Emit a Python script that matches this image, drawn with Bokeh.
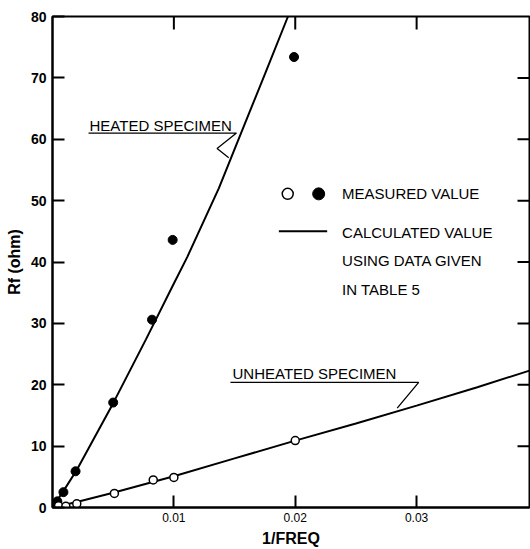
import math
from bokeh.plotting import figure
from bokeh.models import Range1d, FixedTicker, Label
from bokeh.embed import file_html
from bokeh.resources import INLINE

# ---- data ----
heated_meas_x = [0.0004, 0.0009, 0.0019, 0.0050, 0.0082, 0.0099, 0.0199]
heated_meas_y = [1.0, 2.5, 5.9, 17.1, 30.6, 43.6, 73.4]

unheated_meas_x = [0.0005, 0.0011, 0.0020, 0.0051, 0.0083, 0.0100, 0.0200]
unheated_meas_y = [0.3, 0.2, 0.6, 2.3, 4.5, 4.9, 10.9]

heated_calc_x = [0.0, 0.001, 0.002, 0.005, 0.0077, 0.010, 0.0111, 0.0137, 0.0159, 0.0175, 0.0194]
heated_calc_y = [0.0, 3.0, 6.1, 17.0, 27.4, 36.5, 40.8, 52.0, 62.8, 70.6, 80.0]

unheated_calc_x = [0.0, 0.002, 0.005, 0.010, 0.015, 0.020, 0.025, 0.030, 0.035, 0.0393]
unheated_calc_y = [0.0, 0.9, 2.4, 5.1, 8.0, 10.9, 13.7, 16.6, 19.6, 22.3]

x_ticks = [0.01, 0.02, 0.03]
y_ticks = [0, 10, 20, 30, 40, 50, 60, 70, 80]
side_y_ticks = [10, 20, 30, 40, 50, 60, 70]

X_END = 0.0393
Y_END = 80
FONT = "Liberation Sans"

p = figure(width=530, height=549, output_backend="svg", toolbar_location=None,
           x_range=Range1d(0, X_END), y_range=Range1d(0, Y_END),
           min_border_left=52, min_border_right=1, min_border_top=16, min_border_bottom=42)
p.grid.visible = False
p.outline_line_color = "black"
p.outline_line_width = 2
p.background_fill_color = "white"
p.border_fill_color = "white"

for ax in (p.xaxis[0], p.yaxis[0]):
    ax.axis_line_width = 2
    ax.axis_line_color = "black"
    ax.major_tick_line_width = 2
    ax.major_tick_line_color = "black"
    ax.major_tick_in = 12
    ax.major_tick_out = 0
    ax.minor_tick_line_color = None
    ax.major_label_text_font = FONT
    ax.major_label_text_color = "black"
    ax.axis_label_text_font = FONT
    ax.axis_label_text_font_style = "bold"
    ax.axis_label_text_color = "black"

xa = p.xaxis[0]
xa.ticker = FixedTicker(ticks=x_ticks)
xa.major_label_text_font_size = "12px"
xa.major_label_standoff = 5
xa.axis_label = "1/FREQ"
xa.axis_label_text_font_size = "16px"
xa.axis_label_standoff = 5

ya = p.yaxis[0]
ya.ticker = FixedTicker(ticks=y_ticks)
ya.major_label_text_font_size = "14px"
ya.major_label_text_font_style = "bold"
ya.major_label_standoff = 6
ya.axis_label = "Rf (ohm)"
ya.axis_label_text_font_size = "16px"
ya.axis_label_standoff = 5

# inward tick marks on the top and right frame edges (outer halves are clipped)
p.scatter(x_ticks, [Y_END] * len(x_ticks), marker="dash", angle=math.pi / 2, size=26,
          line_color="black", line_width=2)
p.scatter([X_END] * len(side_y_ticks), side_y_ticks, marker="dash", size=24,
          line_color="black", line_width=2)

# calculated curves
p.line(heated_calc_x, heated_calc_y, line_color="black", line_width=2)
p.line(unheated_calc_x, unheated_calc_y, line_color="black", line_width=2)

# measured values
p.scatter(heated_meas_x, heated_meas_y, marker="circle", size=9,
          fill_color="black", line_color="black")
p.scatter(unheated_meas_x, unheated_meas_y, marker="circle", size=8,
          fill_color="white", line_color="black", line_width=1.5)

def lbl(text, x, y, size="15px"):
    p.add_layout(Label(x=x, y=y, text=text, text_font=FONT, text_font_size=size,
                       text_align="left", text_baseline="middle", text_color="black"))

# HEATED SPECIMEN annotation
lbl("HEATED SPECIMEN", 0.00305, 62.2)
p.line([0.00297, 0.01516, 0.01356, 0.01452], [61.0, 61.0, 58.5, 57.0],
       line_color="black", line_width=1.3)

# UNHEATED SPECIMEN annotation
lbl("UNHEATED SPECIMEN", 0.01483, 21.9)
p.line([0.01466, 0.03017, 0.0284], [20.4, 20.4, 16.2],
       line_color="black", line_width=1.3)

# legend block
p.scatter([0.01938], [51.1], marker="circle", size=11, fill_color="white",
          line_color="black", line_width=1.5)
p.scatter([0.02193], [51.1], marker="circle", size=12, fill_color="black", line_color="black")
lbl("MEASURED VALUE", 0.02386, 51.1)
p.line([0.01865, 0.02263], [45.0, 45.0], line_color="black", line_width=2)
lbl("CALCULATED VALUE", 0.02386, 44.8)
lbl("USING DATA GIVEN", 0.02386, 40.2)
lbl("IN TABLE 5", 0.02386, 35.6)

open("out.html", "w").write(file_html(p, INLINE))
